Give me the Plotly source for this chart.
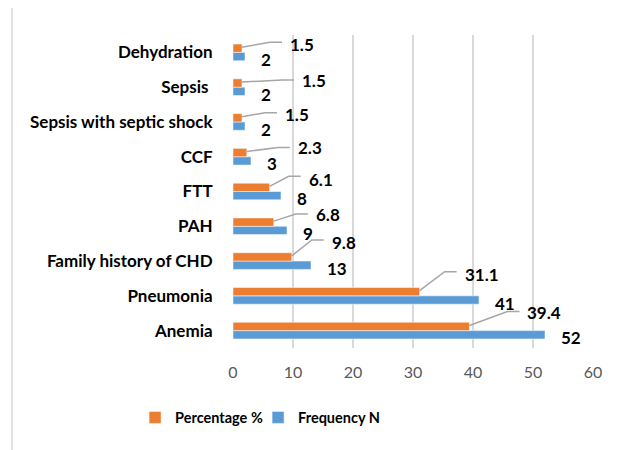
import plotly.graph_objects as go

categories = ["Anemia", "Pneumonia", "Family history of CHD", "PAH", "FTT", "CCF",
              "Sepsis with septic shock", "Sepsis ", "Dehydration"]
frequency_n = [52, 41, 13, 9, 8, 3, 2, 2, 2]
percentage = [39.4, 31.1, 9.8, 6.8, 6.1, 2.3, 1.5, 1.5, 1.5]
x_ticks = [0, 10, 20, 30, 40, 50, 60]

BLUE = "#5B9BD5"
ORANGE = "#ED7D31"
FONT = "Lato"
bargap = 0.52

# leader-line styling for percentage labels (pixel offsets: elbow dx, rise, label dy)
leader = [(38, 15, 14), (25, 20, 17), (20, 17, 14), (22, 8, 8), (19, 11, 8),
          (31, 5, 5), (23, 5, 3), (40, 3, 2), (28, 6, 4)]

ypos = list(range(len(categories)))
fig = go.Figure()
fig.add_trace(go.Bar(y=ypos, x=frequency_n, orientation="h", name="Frequency N",
                     marker=dict(color=BLUE, line=dict(color="white", width=0.5))))
fig.add_trace(go.Bar(y=ypos, x=percentage, orientation="h", name="Percentage %",
                     marker=dict(color=ORANGE, line=dict(color="white", width=0.5))))

half = (1 - bargap) / 4
annotations = []
shapes = []
for i, (f, p) in enumerate(zip(frequency_n, percentage)):
    annotations.append(dict(x=f, y=i - half, xref="x", yref="y", text=str(f),
                            showarrow=False, xanchor="left", yanchor="middle",
                            xshift=14, yshift=-3,
                            font=dict(family=FONT, size=17, color="black", weight="bold")))
    dx, rise, dy = leader[i]
    shapes.append(dict(type="path", xref="x", yref="y", xsizemode="pixel", ysizemode="pixel",
                       xanchor=p, yanchor=i + half,
                       path=f"M 0 1 L {dx} {rise} L {dx + 12} {rise}",
                       line=dict(color="#A6A6A6", width=1.5)))
    annotations.append(dict(x=p, y=i + half, xref="x", yref="y", text=str(p),
                            showarrow=False, xanchor="left", yanchor="middle",
                            xshift=dx + 18, yshift=dy,
                            font=dict(family=FONT, size=17, color="black", weight="bold")))

# outer chart border (top and left visible)
shapes.append(dict(type="rect", xref="paper", yref="paper", x0=-0.614, x1=1.2,
                   y0=-0.4, y1=1.092, line=dict(color="#D9D9D9", width=1.5),
                   fillcolor="rgba(0,0,0,0)", layer="below"))

fig.update_layout(
    width=629, height=450,
    margin=dict(l=225, r=44, t=27, b=110),
    paper_bgcolor="white", plot_bgcolor="white",
    barmode="group", bargap=bargap, bargroupgap=0,
    font=dict(family=FONT, color="black"),
    xaxis=dict(range=[0, 60], tickvals=x_ticks, showgrid=True, gridcolor="#D9D9D9",
               gridwidth=1.5, zeroline=False, showline=False,
               ticks="outside", ticklen=10, tickcolor="rgba(0,0,0,0)",
               tickfont=dict(family=FONT, size=16, color="#595959")),
    yaxis=dict(range=[-0.5, 8.5], tickvals=ypos, ticktext=categories, showgrid=False,
               zeroline=False, showline=False,
               ticks="outside", ticklen=16, tickcolor="rgba(0,0,0,0)",
               tickfont=dict(family=FONT, size=17, color="black", weight="bold")),
    showlegend=True,
    legend=dict(orientation="h", traceorder="reversed", x=-0.272, xanchor="left",
                y=-0.222, yanchor="middle",
                font=dict(family=FONT, size=14.5, color="black", weight="bold"),
                entrywidth=78, entrywidthmode="pixels"),
    annotations=annotations, shapes=shapes,
)

fig.write_html("out.html")
